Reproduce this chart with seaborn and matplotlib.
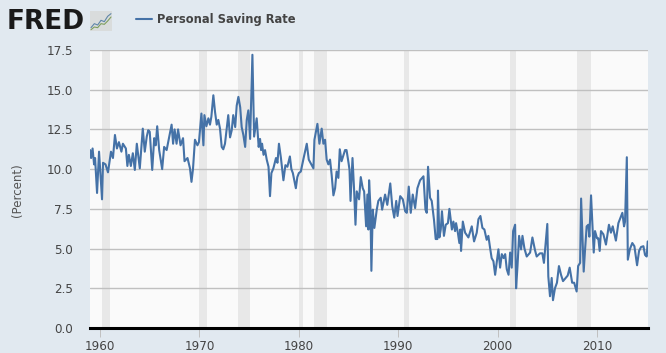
import pandas as pd
import matplotlib.pyplot as plt
import seaborn as sns

years_1959 = [1959.0,1959.1,1959.25,1959.4,1959.5,1959.7,1959.9,1960.2,1960.3,1960.55,1960.8,1961.1,1961.3,1961.5,1961.7,1961.9,
              1962.15,1962.3,1962.6,1962.75,1962.9,1963.1,1963.3,1963.5,1963.7,1964.0,1964.3,1964.5,1964.7,1964.85,1965.0,1965.25,
              1965.45,1965.6,1965.75,1965.95,1966.25,1966.45,1966.7,1967.2,1967.35,1967.5,1967.7,1967.85,1968.1,1968.35,1968.5,
              1968.8,1969.05,1969.2,1969.35,1969.55,1969.8,1969.95]
rate_1959 = [11.2,10.7,11.3,10.3,10.7,8.5,11.1,8.1,10.4,10.3,9.8,11.1,10.7,12.15,11.3,11.7,
             11.1,11.6,11.3,10.2,10.9,10.2,11.0,9.95,11.6,10.05,12.55,11.1,12.05,12.45,12.35,9.95,
             11.95,11.5,12.7,11.2,10.0,11.4,11.2,12.8,11.6,12.5,11.6,12.5,11.5,11.95,10.5,
             10.7,10.05,9.2,10.0,11.85,11.5,11.7]

years_1970 = [1970.2,1970.4,1970.5,1970.7,1970.9,1971.06,1971.2,1971.4,1971.57,1971.74,1971.9,1972.07,1972.24,1972.4,1972.57,
              1972.9,1973.08,1973.25,1973.4,1973.6,1973.75,1973.92,1974.1,1974.25,1974.42,1974.6,1974.76,1974.92,1975.1,1975.33,
              1975.5,1975.76,1975.96,1976.1,1976.2,1976.3,1976.45,1976.6,1976.77,1976.95,1977.1,1977.24,1977.44,1977.7,1977.85,1978.0,1978.2,1978.45,
              1978.65,1978.85,1979.1,1979.25,1979.4,1979.7,1979.85,1980.0,1980.2,1980.45,1980.8,1981.0,1981.47,1981.57,1981.87,1982.07,1982.3,
              1982.47,1982.64,1982.8,1982.97]
rate_1970 = [13.5,11.5,13.4,12.7,13.2,12.8,13.3,14.65,13.6,12.8,13.1,12.55,11.4,11.25,11.6,
             13.4,12.0,12.45,13.4,12.65,14.0,14.55,13.9,12.65,12.15,11.4,13.1,13.7,11.9,17.2,
             12.05,13.2,11.4,11.9,11.2,11.6,10.9,11.2,10.6,10.15,8.3,9.75,10.05,10.7,10.4,11.6,10.7,9.3,
             10.25,10.15,10.8,10.0,9.75,8.8,9.5,9.75,9.85,10.6,11.6,10.6,10.05,11.85,12.85,11.6,12.55,
             11.6,11.85,10.6,10.3]

years_1983 = [1983.14,1983.3,1983.48,1983.65,1983.8,1983.98,1984.12,1984.3,1984.65,1984.8,1985.0,1985.1,1985.2,1985.4,1985.56,
              1985.7,1985.83,1986.06,1986.23,1986.43,1986.57,1986.77,1986.9,1987.0,1987.07,1987.2,1987.3,1987.44,1987.6,1987.84,
              1988.0,1988.24,1988.38,1988.68,1988.9,1989.2,1989.4,1989.6,1989.8,1989.93,1990.2,1990.46,1990.7,1990.86,1991.06,
              1991.26,1991.46,1991.7,1991.93,1992.2,1992.54,1992.74,1992.87,1993.0]
rate_1983 = [10.6,9.65,8.35,8.8,9.85,9.45,11.25,10.5,11.2,11.2,10.4,9.95,8.0,10.7,8.7,
             6.5,8.6,8.1,9.5,8.8,8.6,6.4,8.4,6.2,9.3,7.65,3.6,7.45,6.3,7.45,
             8.0,8.2,7.45,8.4,7.75,9.1,7.65,6.95,8.0,7.05,8.3,8.1,7.35,7.25,8.9,
             7.25,8.4,7.55,8.8,9.3,9.55,7.45,7.25,10.15]

years_1993 = [1993.2,1993.37,1993.6,1993.77,1993.94,1994.0,1994.14,1994.28,1994.4,1994.6,1994.78,1995.0,1995.15,1995.4,1995.55,
              1995.72,1995.82,1996.0,1996.15,1996.25,1996.32,1996.5,1996.73,1997.06,1997.4,1997.63,1997.9,1998.07,1998.27,1998.47,
              1998.67,1998.9,1999.07,1999.24,1999.4,1999.58,1999.75,1999.9,2000.08,2000.25,2000.42,2000.6,2000.76,2000.92,2001.1,
              2001.26,2001.42,2001.56,2001.76,2001.86,2002.0,2002.16,2002.36,2002.5,2002.7,2002.93,2003.27,2003.5,2003.76]
rate_1993 = [8.2,8.0,6.8,5.6,5.6,8.65,5.7,6.2,7.35,5.8,6.5,6.6,7.5,6.2,6.7,
             6.1,6.6,6.0,5.35,6.2,4.85,6.7,6.0,5.7,6.4,5.45,6.0,6.85,7.05,6.3,
             6.2,5.55,5.8,5.05,4.4,4.2,3.35,4.1,4.95,3.8,4.65,4.4,4.65,3.7,3.35,
             4.75,3.8,6.1,6.5,2.5,3.9,5.8,4.95,5.8,5.0,4.5,4.75,5.7,4.9]

years_2004 = [2003.93,2004.26,2004.5,2004.66,2005.0,2005.1,2005.27,2005.44,2005.57,2005.77,2005.97,2006.17,2006.38,2006.58,2006.85,
              2007.05,2007.25,2007.5,2007.7,2007.95,2008.1,2008.3,2008.4,2008.66,2008.8,2008.96,2009.13,2009.23,2009.4,2009.67,
              2009.8,2010.0,2010.13,2010.27,2010.4,2010.64,2010.9,2011.2,2011.4,2011.58,2011.9,2012.15,2012.55,2012.72,2012.82,
              2013.0,2013.1,2013.3,2013.55,2013.76,2014.03,2014.23,2014.43,2014.67,2014.83,2015.0,2015.1]
rate_2004 = [4.5,4.7,4.7,4.1,6.55,3.25,2.0,3.15,1.75,2.5,2.85,3.9,3.35,2.95,3.15,
             3.3,3.8,2.85,2.85,2.3,3.9,4.1,8.15,3.55,4.95,6.4,6.5,5.75,8.35,4.75,
             6.1,5.65,5.65,4.85,6.1,5.9,5.25,6.5,6.0,6.4,5.5,6.6,7.25,6.4,6.7,
             10.75,4.3,4.95,5.35,5.15,3.95,4.85,5.1,5.15,4.6,4.5,5.45]

recession_start = [1960.2,1969.95,1973.9,1980.0,1981.5,1990.6,2001.2,2008.0]
recession_end = [1961.0,1970.8,1975.1,1980.4,1982.8,1991.1,2001.85,2009.4]

x_ticks = [1960,1970,1980,1990,2000,2010]
y_ticks = [0,2.5,5,7.5,10,12.5,15,17.5]

logo_x = [0,1,2,3,4,5,6]
logo_blue = [1,2.2,1.8,3.2,2.8,4.4,5.2]
logo_green = [0.4,1.2,1.0,2.2,2.0,3.0,4.2]

df = pd.DataFrame({
    "year": years_1959 + years_1970 + years_1983 + years_1993 + years_2004,
    "rate": rate_1959 + rate_1970 + rate_1983 + rate_1993 + rate_2004,
})

sns.set_style("white")
plt.rcParams["font.family"] = ["DejaVu Sans"]

W,H = 666,353
bg = "#e1e9f0"
fig = plt.figure(figsize=(W/100,H/100),dpi=100,facecolor=bg)
ax = fig.add_axes([90/W,1-328/H,558/W,278/H],facecolor="#fafafa")

for a,b in zip(recession_start,recession_end):
    ax.axvspan(a,b,color="#e8e8e8",lw=0,zorder=1)

ax.set_yticks(y_ticks)
ax.set_yticklabels(["0.0","2.5","5.0","7.5","10.0","12.5","15.0","17.5"])
ax.set_xticks(x_ticks)
ax.grid(axis="y",color="#c0c0c0",lw=1.0,zorder=2)
ax.set_axisbelow(False)

sns.lineplot(data=df,x="year",y="rate",estimator=None,sort=False,color="#4572a7",lw=1.5,ax=ax,zorder=3)

ax.set_xlim(1958.99,2015.13)
ax.set_ylim(0,17.5)
ax.set_xlabel("")
ax.set_ylabel("(Percent)",fontsize=8.5,color="#555555",labelpad=0)
ax.yaxis.set_label_coords((24-90)/558,0.495)

for s in ["top","left","right"]:
    ax.spines[s].set_visible(False)
ax.spines["bottom"].set_color("black")
ax.spines["bottom"].set_linewidth(2.2)
ax.spines["bottom"].set_zorder(5)

ax.tick_params(axis="y",length=0,pad=12,labelsize=8.6,labelcolor="#444444")
ax.tick_params(axis="x",length=6.5,width=0.7,color="#c0c0c0",pad=2.5,labelsize=8.6,labelcolor="#444444",bottom=True)

fig.text(7/W,1-22/H,"FRED",fontsize=19,fontweight="bold",color="#1a1a1a",va="center",ha="left")

# small sparkline icon next to the logo
icon = fig.add_axes([90/W,1-31/H,22/W,20/H],facecolor="#d9dcdc")
icon.plot(logo_x,logo_blue,color="#5f86a8",lw=0.8)
icon.plot(logo_x,logo_green,color="#7f9f5f",lw=0.8)
icon.set_xlim(-0.3,6.3)
icon.set_ylim(0,6)
icon.set_xticks([])
icon.set_yticks([])
for s in icon.spines.values():
    s.set_visible(False)

# legend drawn by hand since it sits above the plot
fig.add_artist(plt.Line2D([136/W,152/W],[1-19/H,1-19/H],color="#4572a7",lw=1.5))
fig.text(157/W,1-19/H,"Personal Saving Rate",fontsize=8.3,fontweight="bold",color="#444444",va="center",ha="left")

fig.savefig("out.png",dpi=100,facecolor=bg)
